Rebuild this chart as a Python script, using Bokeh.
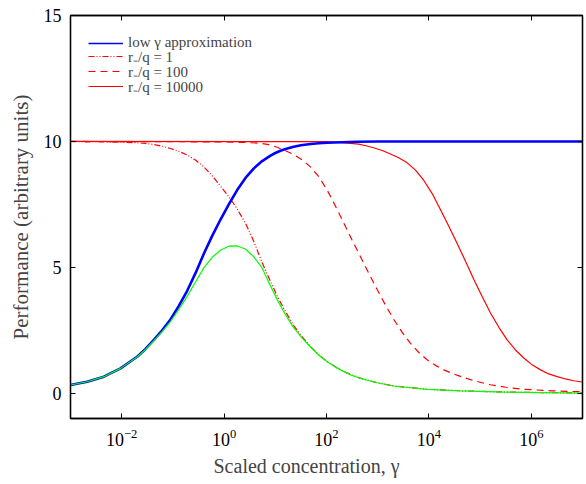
from bokeh.plotting import figure
from bokeh.models import (Range1d, FixedTicker, LogTickFormatter, LogAxis, LinearAxis,
                          Legend, LegendItem, Title, ColumnDataSource, CustomJSTickFormatter)
from bokeh.embed import file_html
from bokeh.resources import INLINE

# ---- data (x given as log10(gamma)) ----
blue_logx = [-3.0, -2.674, -2.349, -2.023, -1.698, -1.535, -1.372, -1.210, -1.047, -0.884,
             -0.721, -0.559, -0.396, -0.233, -0.070, 0.092, 0.255, 0.418, 0.581, 0.743,
             0.906, 1.0, 1.10, 1.2, 1.36, 1.5, 1.69, 1.85, 2.01, 2.3, 2.6, 3.0, 7.0]
blue_y = [0.33, 0.46, 0.66, 0.99, 1.45, 1.76, 2.12, 2.50, 2.93, 3.47,
          4.07, 4.77, 5.54, 6.25, 6.90, 7.50, 8.07, 8.55, 8.93, 9.22,
          9.44, 9.54, 9.63, 9.70, 9.79, 9.85, 9.90, 9.93, 9.95, 9.97, 9.99, 10.0, 10.0]

rq1_logx = [-3.0, -2.349, -2.023, -1.698, -1.535, -1.372, -1.210, -1.047, -0.884, -0.721,
            -0.559, -0.396, -0.233, -0.070, 0.092, 0.255, 0.418, 0.581, 0.711, 0.874,
            1.037, 1.199, 1.362, 1.525, 1.688, 1.850, 2.013, 2.176, 2.339, 2.501,
            2.664, 2.990, 3.315, 3.966, 4.617, 5.5, 6.2, 7.0]
rq1_y = [9.99, 9.98, 9.97, 9.95, 9.92, 9.88, 9.81, 9.72, 9.61, 9.46,
         9.26, 8.99, 8.64, 8.22, 7.81, 7.32, 6.75, 6.03, 5.34, 4.58,
         3.86, 3.24, 2.68, 2.24, 1.86, 1.53, 1.26, 1.05, 0.87, 0.72,
         0.60, 0.42, 0.29, 0.16, 0.10, 0.05, 0.03, 0.01]

rq100_logx = [-3.0, -1.0, 0.0, 0.4, 0.711, 0.874, 1.037, 1.199, 1.362, 1.525,
              1.688, 1.850, 2.013, 2.176, 2.339, 2.501, 2.664, 2.827, 2.990, 3.152,
              3.315, 3.478, 3.641, 3.803, 3.966, 4.129, 4.292, 4.454, 4.617, 4.88,
              5.20, 5.5, 5.85, 6.4, 6.99]
rq100_y = [10.0, 9.99, 9.98, 9.96, 9.93, 9.87, 9.77, 9.63, 9.48, 9.27,
           8.99, 8.60, 8.07, 7.43, 6.75, 6.08, 5.42, 4.76, 4.12, 3.50,
           2.93, 2.42, 1.98, 1.62, 1.33, 1.11, 0.93, 0.79, 0.67, 0.50,
           0.34, 0.24, 0.16, 0.10, 0.06]

rq10000_logx = [-3.0, 2.0, 2.30, 2.63, 2.79, 2.95, 3.10, 3.25, 3.41, 3.576, 3.738,
                3.901, 4.064, 4.227, 4.389, 4.552, 4.715, 4.878, 5.040, 5.203, 5.366,
                5.529, 5.691, 5.854, 6.017, 6.180, 6.342, 6.505, 6.668, 6.831, 6.99]
rq10000_y = [10.0, 9.99, 9.95, 9.89, 9.82, 9.73, 9.63, 9.50, 9.35, 9.15, 8.86,
             8.45, 7.93, 7.29, 6.63, 5.95, 5.24, 4.52, 3.84, 3.19, 2.62,
             2.12, 1.72, 1.40, 1.13, 0.93, 0.77, 0.66, 0.57, 0.50, 0.45]

green_logx = [-3.0, -2.674, -2.349, -2.023, -1.698, -1.535, -1.372, -1.210, -1.047, -0.884,
              -0.721, -0.559, -0.396, -0.233, -0.070, 0.092, 0.255, 0.418, 0.581, 0.743,
              0.874, 1.037, 1.199, 1.362, 1.525, 1.688, 1.850, 2.013, 2.176, 2.339,
              2.501, 2.664, 2.990, 3.315, 3.966, 4.617, 5.5, 6.2, 7.0]
green_y = [0.33, 0.46, 0.66, 0.99, 1.44, 1.74, 2.09, 2.45, 2.85, 3.33,
           3.85, 4.42, 4.98, 5.40, 5.68, 5.84, 5.85, 5.73, 5.42, 4.98,
           4.40, 3.72, 3.12, 2.60, 2.19, 1.84, 1.51, 1.25, 1.04, 0.86,
           0.71, 0.59, 0.42, 0.29, 0.16, 0.10, 0.05, 0.03, 0.01]

x_ticks = [1e-2, 1e0, 1e2, 1e4, 1e6]
y_ticks = [0, 5, 10, 15]
legend_labels = ["low \u03b3 approximation", "r\u208b/q = 1", "r\u208b/q = 100", "r\u208b/q = 10000"]
x_label = "Scaled concentration, \u03b3"
y_label = "Performance (arbitrary units)"

FONT = "'Liberation Serif', serif"


def src(lx, y):
    return ColumnDataSource(dict(x=[10 ** v for v in lx], y=y))


p = figure(x_axis_type="log", x_range=Range1d(1e-3, 1e7), y_range=Range1d(-1, 15),
           frame_width=512, frame_height=403, output_backend="svg", toolbar_location=None,
           min_border_left=70, min_border_top=15, min_border_right=4, min_border_bottom=66)
p.xgrid.visible = False
p.ygrid.visible = False
p.outline_line_color = "black"
p.outline_line_width = 1.3

blue_src = src(blue_logx, blue_y)
r_dd = p.line("x", "y", source=src(rq1_logx, rq1_y), line_color="#ff0000", line_width=1.2,
              line_dash="6 2 1 2 1 2")
r_da = p.line("x", "y", source=src(rq100_logx, rq100_y), line_color="#ff0000", line_width=1.2,
              line_dash="7 5")
r_so = p.line("x", "y", source=src(rq10000_logx, rq10000_y), line_color="#ff0000", line_width=1.2)
r_bl = p.line("x", "y", source=blue_src, line_color="#0000ff", line_width=2.6)
r_gr = p.line("x", "y", source=src(green_logx, green_y), line_color="#00ff00", line_width=1.2)
# thin, hidden copy of the blue curve used only for its legend sample
r_bl_key = p.line("x", "y", source=blue_src, line_color="#0000ff", line_width=1.5, visible=False)


def style(ax, labels=True):
    ax.axis_line_color = "black"
    ax.axis_line_width = 1.3
    ax.major_tick_in = 5
    ax.major_tick_out = 0
    ax.minor_tick_in = 0
    ax.minor_tick_out = 0
    ax.major_tick_line_color = "black"
    ax.major_tick_line_width = 1
    ax.major_label_text_font = FONT
    ax.major_label_text_font_size = "18px"
    ax.major_label_text_color = "black"
    if not labels:
        ax.formatter = CustomJSTickFormatter(code="return ''")
        ax.major_label_standoff = 0


xax = p.xaxis[0]
xax.ticker = FixedTicker(ticks=x_ticks)
xax.formatter = LogTickFormatter(min_exponent=0)
style(xax)
xax.major_label_standoff = 10

yax = p.yaxis[0]
yax.ticker = FixedTicker(ticks=y_ticks)
style(yax)
yax.major_label_standoff = 9
yax.axis_label = y_label
yax.axis_label_text_font = FONT
yax.axis_label_text_font_size = "21px"
yax.axis_label_text_font_style = "normal"
yax.axis_label_standoff = 8

top = LogAxis(ticker=FixedTicker(ticks=x_ticks))
style(top, labels=False)
p.add_layout(top, "above")
right = LinearAxis(ticker=FixedTicker(ticks=y_ticks))
style(right, labels=False)
p.add_layout(right, "right")

xt = Title(text=x_label, align="left", offset=143, text_font=FONT, text_font_size="20px",
           text_font_style="normal", standoff=9)
p.add_layout(xt, "below")

# one single-row legend per entry so the rows sit 15 px apart, as in the reference
legend_renderers = [r_bl_key, r_dd, r_da, r_so]
row_bottoms = [367, 352, 337, 322]   # px above the bottom of the plotting area
for lab, rend, yb in zip(legend_labels, legend_renderers, row_bottoms):
    lg = Legend(items=[LegendItem(label=lab, renderers=[rend])],
                location=(18, yb), margin=0, padding=0, spacing=0,
                glyph_width=35, glyph_height=12, label_height=12, label_standoff=5,
                label_text_font=FONT, label_text_font_size="15px",
                border_line_alpha=0, background_fill_alpha=0)
    p.add_layout(lg, "center")

open("out.html", "w").write(file_html(p, INLINE))
